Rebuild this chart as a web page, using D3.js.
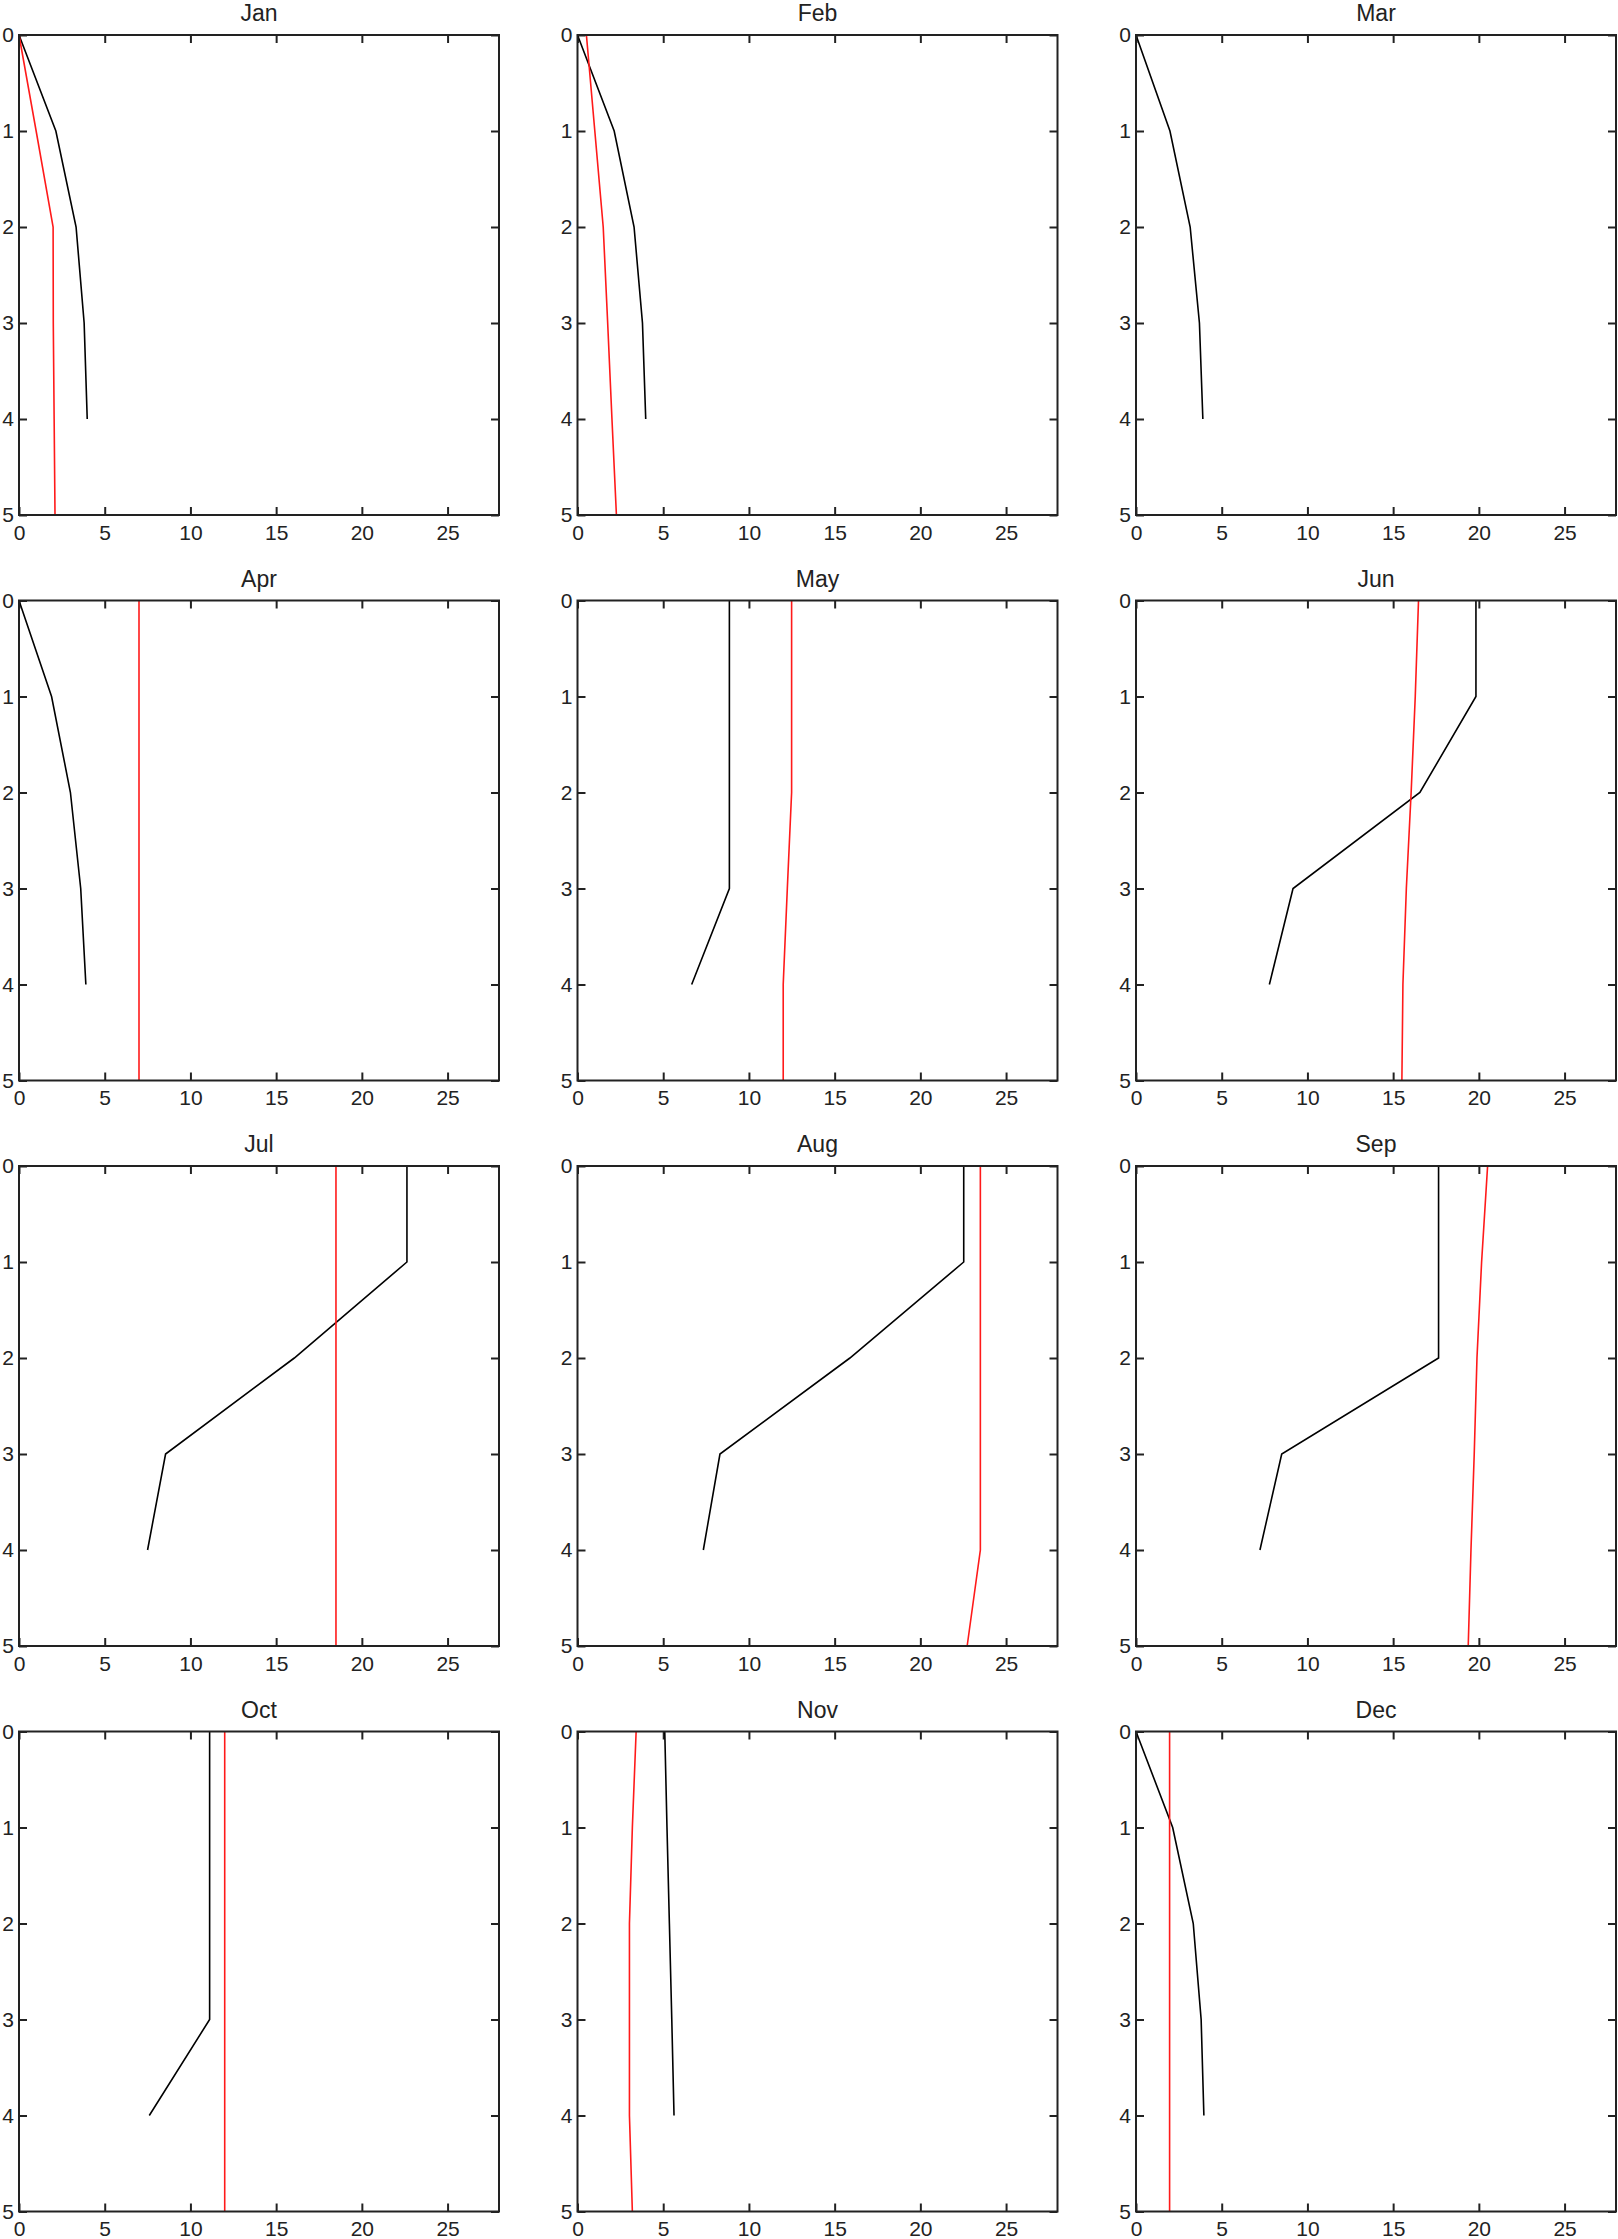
<!DOCTYPE html>
<html>
<head>
<meta charset="utf-8">
<script src="https://d3js.org/d3.v7.min.js"></script>
<style>
  body { margin: 0; background: #fff; }
  .tick text { font-family: "Liberation Sans", Arial, sans-serif; font-size: 21px; fill: #222; }
  .tick line { stroke: #222; stroke-width: 2; }
</style>
</head>
<body>
<script>
// Month names, one panel each
var months = ["Jan", "Feb", "Mar", "Apr", "May", "Jun",
              "Jul", "Aug", "Sep", "Oct", "Nov", "Dec"];

// Depth levels for each series
var blackDepths = [0, 1, 2, 3, 4];
var redDepths = [0, 1, 2, 3, 4, 5];

// Black profile values per month (x at each depth)
var blackValues = [
  [0, 2.15, 3.33, 3.8, 3.98],
  [0, 2.14, 3.3, 3.79, 3.98],
  [0, 1.98, 3.16, 3.7, 3.9],
  [0, 1.9, 3.0, 3.6, 3.9],
  [8.86, 8.86, 8.86, 8.86, 6.66],
  [19.83, 19.83, 16.56, 9.16, 7.78],
  [22.63, 22.63, 16.06, 8.55, 7.5],
  [22.53, 22.53, 15.89, 8.31, 7.34],
  [17.65, 17.65, 17.65, 8.5, 7.23],
  [11.12, 11.12, 11.12, 11.12, 7.6],
  [5.09, 5.22, 5.36, 5.5, 5.63],
  [0, 2.14, 3.34, 3.8, 3.96]
];

// Red profile values per month (null = not drawn)
var redValues = [
  [0, 1.0, 1.99, 2.0, 2.05, 2.1],
  [0.52, 1.01, 1.5, 1.76, 2.01, 2.27],
  null,
  [7.0, 7.0, 7.0, 7.0, 7.0, 7.0],
  [12.49, 12.49, 12.49, 12.24, 12.0, 12.0],
  [16.48, 16.29, 16.05, 15.77, 15.57, 15.51],
  [18.49, 18.49, 18.49, 18.49, 18.49, 18.49],
  [23.5, 23.5, 23.5, 23.5, 23.5, 22.73],
  [20.51, 20.16, 19.89, 19.73, 19.54, 19.38],
  [12.0, 12.0, 12.0, 12.0, 12.0, 12.0],
  [3.42, 3.2, 3.03, 3.03, 3.03, 3.2],
  [1.96, 1.96, 1.96, 1.96, 1.96, 1.96]
];

// Tick labels
var xTicks = [0, 5, 10, 15, 20, 25];
var yTicks = [0, 1, 2, 3, 4, 5];

// Page and panel dimensions
var svgWidth = 1618;
var svgHeight = 2239;
var panelSize = 480;
var panelLeft = 19;
var panelTop = 35;
var colStep = 558.5;
var rowStep = 565.5;

var svg = d3.select("body")
            .append("svg")
            .attr("width", svgWidth)
            .attr("height", svgHeight);

// Shared scales: x value along, depth downward
var x = d3.scaleLinear().domain([0, 28]).range([0, panelSize]);
var y = d3.scaleLinear().domain([0, 5]).range([0, panelSize]);

var line = d3.line()
             .x(function(d) { return x(d[0]); })
             .y(function(d) { return y(d[1]); });

months.forEach(function(month, i) {
    var col = i % 3;
    var row = Math.floor(i / 3);

    var g = svg.append("g")
               .attr("transform", `translate(${panelLeft + col * colStep}, ${panelTop + row * rowStep})`);

    // Bottom axis with labels
    g.append("g")
     .attr("transform", "translate(0," + panelSize + ")")
     .call(d3.axisBottom(x).tickValues(xTicks).tickSize(-8).tickSizeOuter(0).tickPadding(10))
     .call(function(a) { a.select(".domain").remove(); });

    // Top axis, ticks only
    g.append("g")
     .call(d3.axisTop(x).tickValues(xTicks).tickSize(-8).tickSizeOuter(0).tickFormat(""))
     .call(function(a) { a.select(".domain").remove(); });

    // Left axis with labels
    g.append("g")
     .call(d3.axisLeft(y).tickValues(yTicks).tickSize(-8).tickSizeOuter(0).tickPadding(5).tickFormat(d3.format("d")))
     .call(function(a) { a.select(".domain").remove(); });

    // Right axis, ticks only
    g.append("g")
     .attr("transform", "translate(" + panelSize + ",0)")
     .call(d3.axisRight(y).tickValues(yTicks).tickSize(-8).tickSizeOuter(0).tickFormat(""))
     .call(function(a) { a.select(".domain").remove(); });

    // Black profile
    g.append("path")
     .datum(blackValues[i].map(function(v, k) { return [v, blackDepths[k]]; }))
     .attr("d", line)
     .attr("fill", "none")
     .attr("stroke", "#000")
     .attr("stroke-width", 1.6);

    // Red profile
    if (redValues[i]) {
        g.append("path")
         .datum(redValues[i].map(function(v, k) { return [v, redDepths[k]]; }))
         .attr("d", line)
         .attr("fill", "none")
         .attr("stroke", "#ff1a1a")
         .attr("stroke-width", 1.6);
    }

    // Box frame
    g.append("rect")
     .attr("width", panelSize)
     .attr("height", panelSize)
     .attr("fill", "none")
     .attr("stroke", "#222")
     .attr("stroke-width", 2);

    // Panel title
    g.append("text")
     .attr("x", panelSize / 2)
     .attr("y", -14)
     .attr("text-anchor", "middle")
     .style("font-family", "'Liberation Sans', Arial, sans-serif")
     .style("font-size", "23px")
     .style("fill", "#222")
     .text(month);
});
</script>
</body>
</html>
